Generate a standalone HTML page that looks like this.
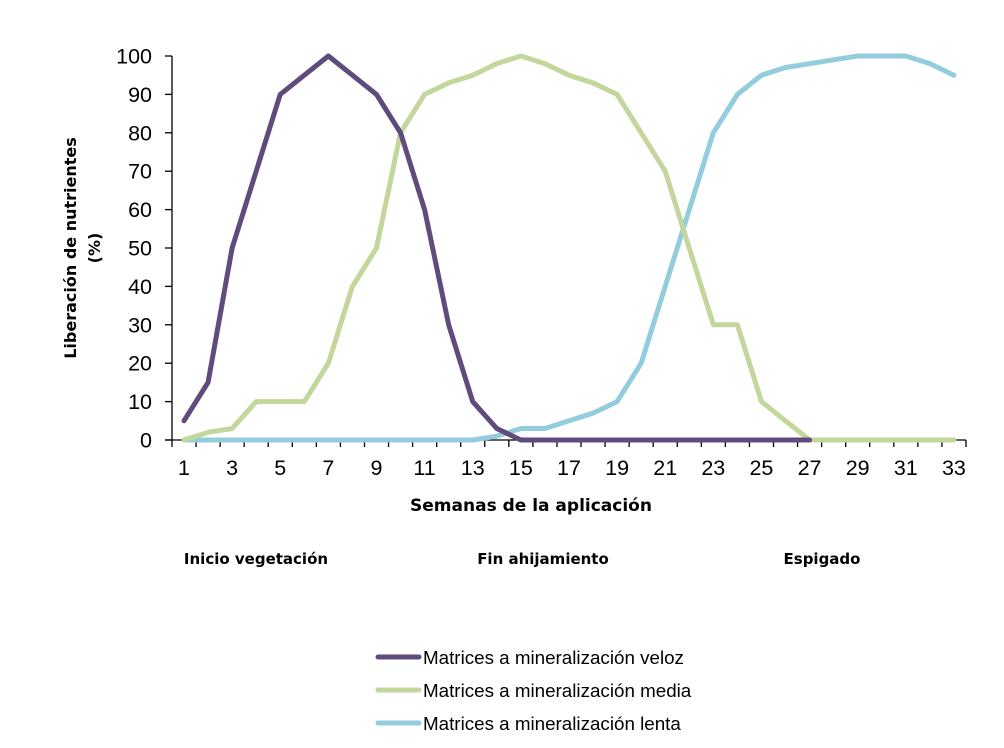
<!DOCTYPE html>
<html><head><meta charset="utf-8"><style>
body{margin:0;background:#fff}
text{font-family:"Liberation Sans",sans-serif;fill:#000}
.b{font-family:"DejaVu Sans","Liberation Sans",sans-serif;font-weight:bold}
</style></head><body>
<svg id="s" width="1004" height="743" xmlns="http://www.w3.org/2000/svg">
<g id="ax" stroke="#000" stroke-width="1.3" fill="none"></g>
<g id="lab" font-size="21.5" text-anchor="end"></g>
<g id="xl" font-size="21.5" text-anchor="middle"></g>
<g id="ln" fill="none" stroke-width="5" stroke-linejoin="round" stroke-linecap="round"></g>
<text class="b" font-size="17" x="531" y="511" text-anchor="middle">Semanas de la aplicación</text>
<text class="b" font-size="16" x="0" y="0" text-anchor="middle" transform="translate(76,248) rotate(-90)">Liberación de nutrientes</text>
<text class="b" font-size="16" x="0" y="0" text-anchor="middle" transform="translate(100,248) rotate(-90)">(%)</text>
<text class="b" font-size="15" x="256" y="564" text-anchor="middle">Inicio vegetación</text>
<text class="b" font-size="15" x="543" y="564" text-anchor="middle">Fin ahijamiento</text>
<text class="b" font-size="15" x="822" y="564" text-anchor="middle">Espigado</text>
<line x1="378" y1="657" x2="419" y2="657" stroke="#5f4b7c" stroke-width="5" stroke-linecap="round"/>
<line x1="378" y1="690" x2="419" y2="690" stroke="#c3d69b" stroke-width="5" stroke-linecap="round"/>
<line x1="378" y1="723" x2="419" y2="723" stroke="#93cddd" stroke-width="5" stroke-linecap="round"/>
<text font-size="18.8" x="423" y="664">Matrices a mineralización veloz</text>
<text font-size="18.8" x="423" y="697">Matrices a mineralización media</text>
<text font-size="18.8" x="423" y="730">Matrices a mineralización lenta</text>
</svg>
<script>
var NS="http://www.w3.org/2000/svg";
function el(p,t,a,txt){var e=document.createElementNS(NS,t);for(var k in a)e.setAttribute(k,a[k]);if(txt!=null)e.textContent=txt;document.getElementById(p).appendChild(e);}
var x0=172,w=24.06,Y=function(v){return 440-v*3.84;},X=function(i){return x0+12+w*(i-1);};
el("ax","line",{x1:x0,y1:56,x2:x0,y2:440});
el("ax","line",{x1:x0-7,y1:440,x2:x0+33*w,y2:440});
for(var v=0;v<=100;v+=10){el("ax","line",{x1:x0-7,y1:Y(v),x2:x0,y2:Y(v)});el("lab","text",{x:152,y:Y(v)+7.5},v);}
for(var i=0;i<=33;i++)el("ax","line",{x1:x0+i*w,y1:440,x2:x0+i*w,y2:447});
for(var i=1;i<=33;i+=2)el("xl","text",{x:X(i),y:475},i);
var P=[5,15,50,70,90,95,100,95,90,80,60,30,10,3,0,0,0,0,0,0,0,0,0,0,0,0,0];
var G=[0,2,3,10,10,10,20,40,50,80,90,93,95,98,100,98,95,93,90,80,70,50,30,30,10,5,0,0,0,0,0,0,0];
var B=[0,0,0,0,0,0,0,0,0,0,0,0,0,1,3,3,5,7,10,20,40,60,80,90,95,97,98,99,100,100,100,98,95];
function pl(d,c){el("ln","polyline",{stroke:c,points:d.map(function(v,i){return X(i+1)+","+Y(v);}).join(" ")});}
pl(B,"#93cddd");pl(G,"#c3d69b");pl(P,"#5f4b7c");
</script>
</body></html>
